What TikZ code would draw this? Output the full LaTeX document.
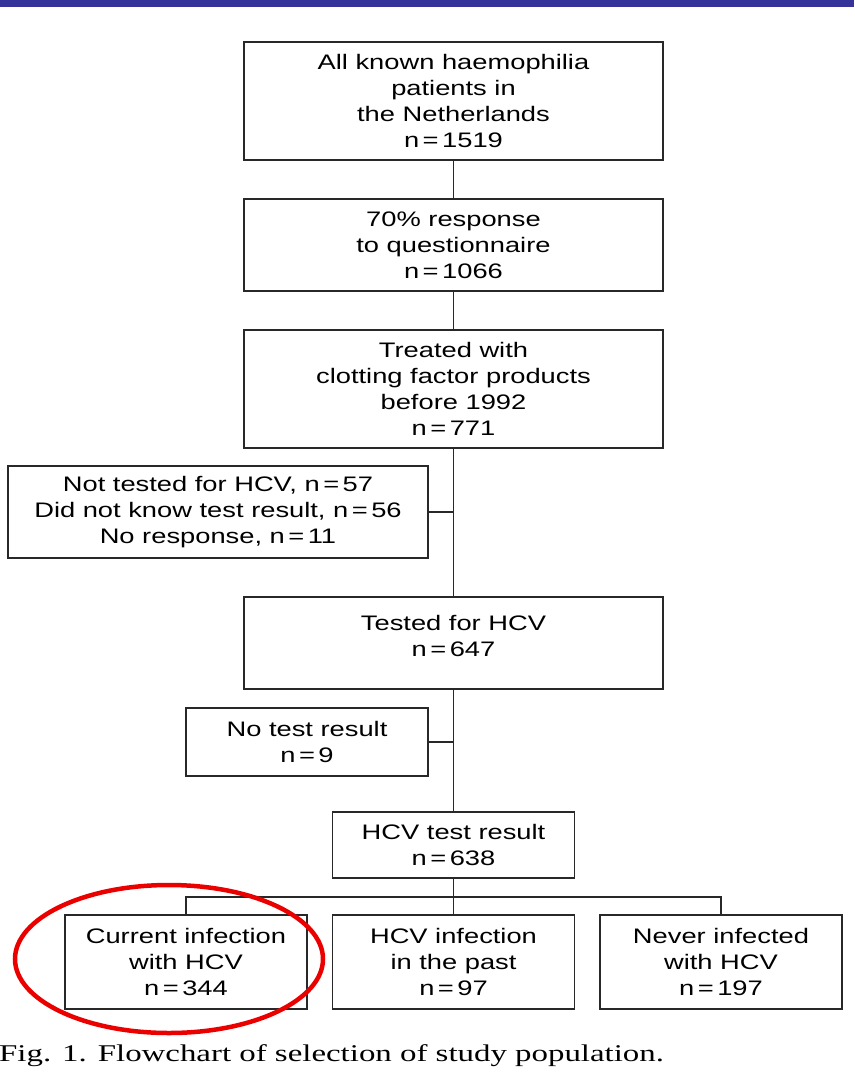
\documentclass[tikz,border=0pt]{standalone}
\usepackage{fontspec}
\newfontfamily\boxfont[FakeStretch=1.3]{Liberation Sans}
\newfontfamily\capfont[FakeStretch=1.37]{Liberation Serif}
\definecolor{barblue}{RGB}{51,51,153}
\definecolor{boxline}{RGB}{40,40,40}
\definecolor{ringred}{RGB}{235,0,0}
\begin{document}
\begin{tikzpicture}[x=1pt,y=-1pt,
  box/.style={draw=boxline, line width=1.8pt, rectangle, align=center,
    inner sep=0pt, font=\boxfont\fontsize{21}{26}\selectfont},
  wide/.style={box, minimum width=419pt},
  small/.style={box, minimum width=242pt},
  link/.style={draw=boxline, line width=1.8pt}
]
\useasboundingbox (0,0) rectangle (854,1076);
\fill[barblue] (0,0) rectangle (854,7);

\node[wide, minimum height=118pt] (b1) at (453.5,101)
  {All known haemophilia\\ patients in\\ the Netherlands\\ n\,=\,1519};
\node[wide, minimum height=92pt] (b2) at (453.5,245)
  {70\% response\\ to questionnaire\\ n\,=\,1066};
\node[wide, minimum height=118pt] (b3) at (453.5,389)
  {Treated with\\ clotting factor products\\ before 1992\\ n\,=\,771};
\node[box, minimum width=420pt, minimum height=92pt] (s1) at (218,512)
  {Not tested for HCV, n\,=\,57\\ Did not know test result, n\,=\,56\\ No response, n\,=\,11};
\node[wide, minimum height=92pt] (b4) at (453.5,643)
  {Tested for HCV\\ n\,=\,647\\[-12pt]\mbox{}};
\node[small, minimum height=68pt] (s2) at (307,742)
  {No test result\\ n\,=\,9};
\node[small, minimum height=66pt] (b5) at (453.5,845)
  {HCV test result\\ n\,=\,638};
\node[small, minimum height=94pt] (c1) at (186,962)
  {Current infection\\ with HCV\\ n\,=\,344};
\node[small, minimum height=94pt] (c2) at (453.5,962)
  {HCV infection\\ in the past\\ n\,=\,97};
\node[small, minimum height=94pt] (c3) at (721,962)
  {Never infected\\ with HCV\\ n\,=\,197};

\coordinate (bar) at (453.5,897);

\draw[link] (b1.south) -- (b2.north);
\draw[link] (b2.south) -- (b3.north);
\draw[link] (b3.south) -- (b4.north);
\draw[link] (s1.east) -- (s1.east -| b3.south);
\draw[link] (b4.south) -- (b5.north);
\draw[link] (s2.east) -- (s2.east -| b4.south);
\draw[link] (b5.south) -- (c2.north);
\draw[link] (c1.north) |- (bar) -| (c3.north);

\draw[ringred, line width=4.5pt] (169,959) ellipse [x radius=154, y radius=74];

\node[anchor=base west, inner sep=0pt, font=\capfont\fontsize{24}{28}\selectfont] (cap) at (-1,1061)
  {Fig. 1. Flowchart of selection of study population.};
\end{tikzpicture}
\end{document}
